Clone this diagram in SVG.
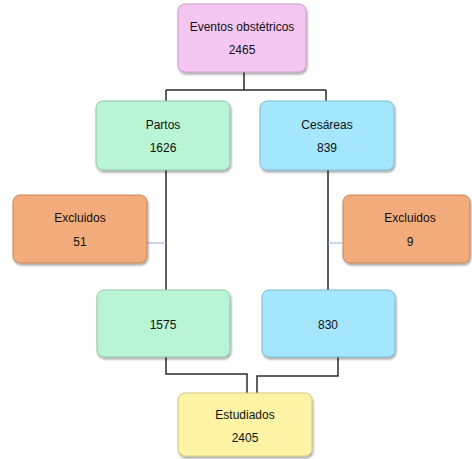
<svg xmlns="http://www.w3.org/2000/svg" width="472" height="459" viewBox="0 0 472 459">
<defs>
<filter id="sh" x="-10%" y="-10%" width="125%" height="130%">
<feDropShadow dx="1" dy="2" stdDeviation="1.2" flood-color="#000" flood-opacity="0.35"/>
</filter>
</defs>
<style>
rect.b{stroke-width:1;filter:url(#sh)}
.pink{fill:#F4C6F1;stroke:#C99AC6}
.green{fill:#B9F4D4;stroke:#8FC7A8}
.blue{fill:#A4E6FB;stroke:#7BBAD0}
.orange{fill:#F2AB7A;stroke:#C98557}
.yellow{fill:#FCF4A4;stroke:#CFC67E}
text{font-family:"Liberation Sans",Arial,sans-serif;font-size:12px;fill:#111;text-anchor:middle}
.ln{fill:none;stroke:#2b2b2b;stroke-width:1.5}
.thin{fill:none;stroke:#8DB3DA;stroke-width:1}
</style>
<g id="connectors">
<path class="ln" d="M244 72V90M166 90H326M166 90V101M326 90V101"/>
<path class="ln" d="M166 170V290M328 170V290"/>
<path class="thin" d="M147 243H166M328 243H343"/>
<path class="ln" d="M166 357V374H247V393"/>
<path class="ln" d="M338 357V376H257V393"/>
</g>
<g id="n_eventos"><rect class="b pink" x="178" y="4" width="128" height="68" rx="7"/><text x="242" y="31">Eventos obstétricos</text><text x="242" y="54">2465</text></g>
<g id="n_partos"><rect class="b green" x="96" y="101" width="134" height="69" rx="7"/><text x="163" y="129">Partos</text><text x="163" y="152">1626</text></g>
<g id="n_cesareas"><rect class="b blue" x="260" y="101" width="134" height="69" rx="7"/><text x="327" y="129">Cesáreas</text><text x="327" y="152">839</text></g>
<g id="n_excl1"><rect class="b orange" x="13" y="195" width="134" height="68" rx="7"/><text x="80" y="222">Excluidos</text><text x="80" y="246">51</text></g>
<g id="n_excl2"><rect class="b orange" x="343" y="195" width="127" height="68" rx="7"/><text x="410" y="222">Excluidos</text><text x="410" y="246">9</text></g>
<g id="n_1575"><rect class="b green" x="97" y="290" width="133" height="67" rx="7"/><text x="163" y="329">1575</text></g>
<g id="n_830"><rect class="b blue" x="262" y="290" width="133" height="67" rx="7"/><text x="328" y="329">830</text></g>
<g id="n_estudiados"><rect class="b yellow" x="178" y="393" width="134" height="63" rx="7"/><text x="245" y="419">Estudiados</text><text x="245" y="442">2405</text></g>
</svg>
